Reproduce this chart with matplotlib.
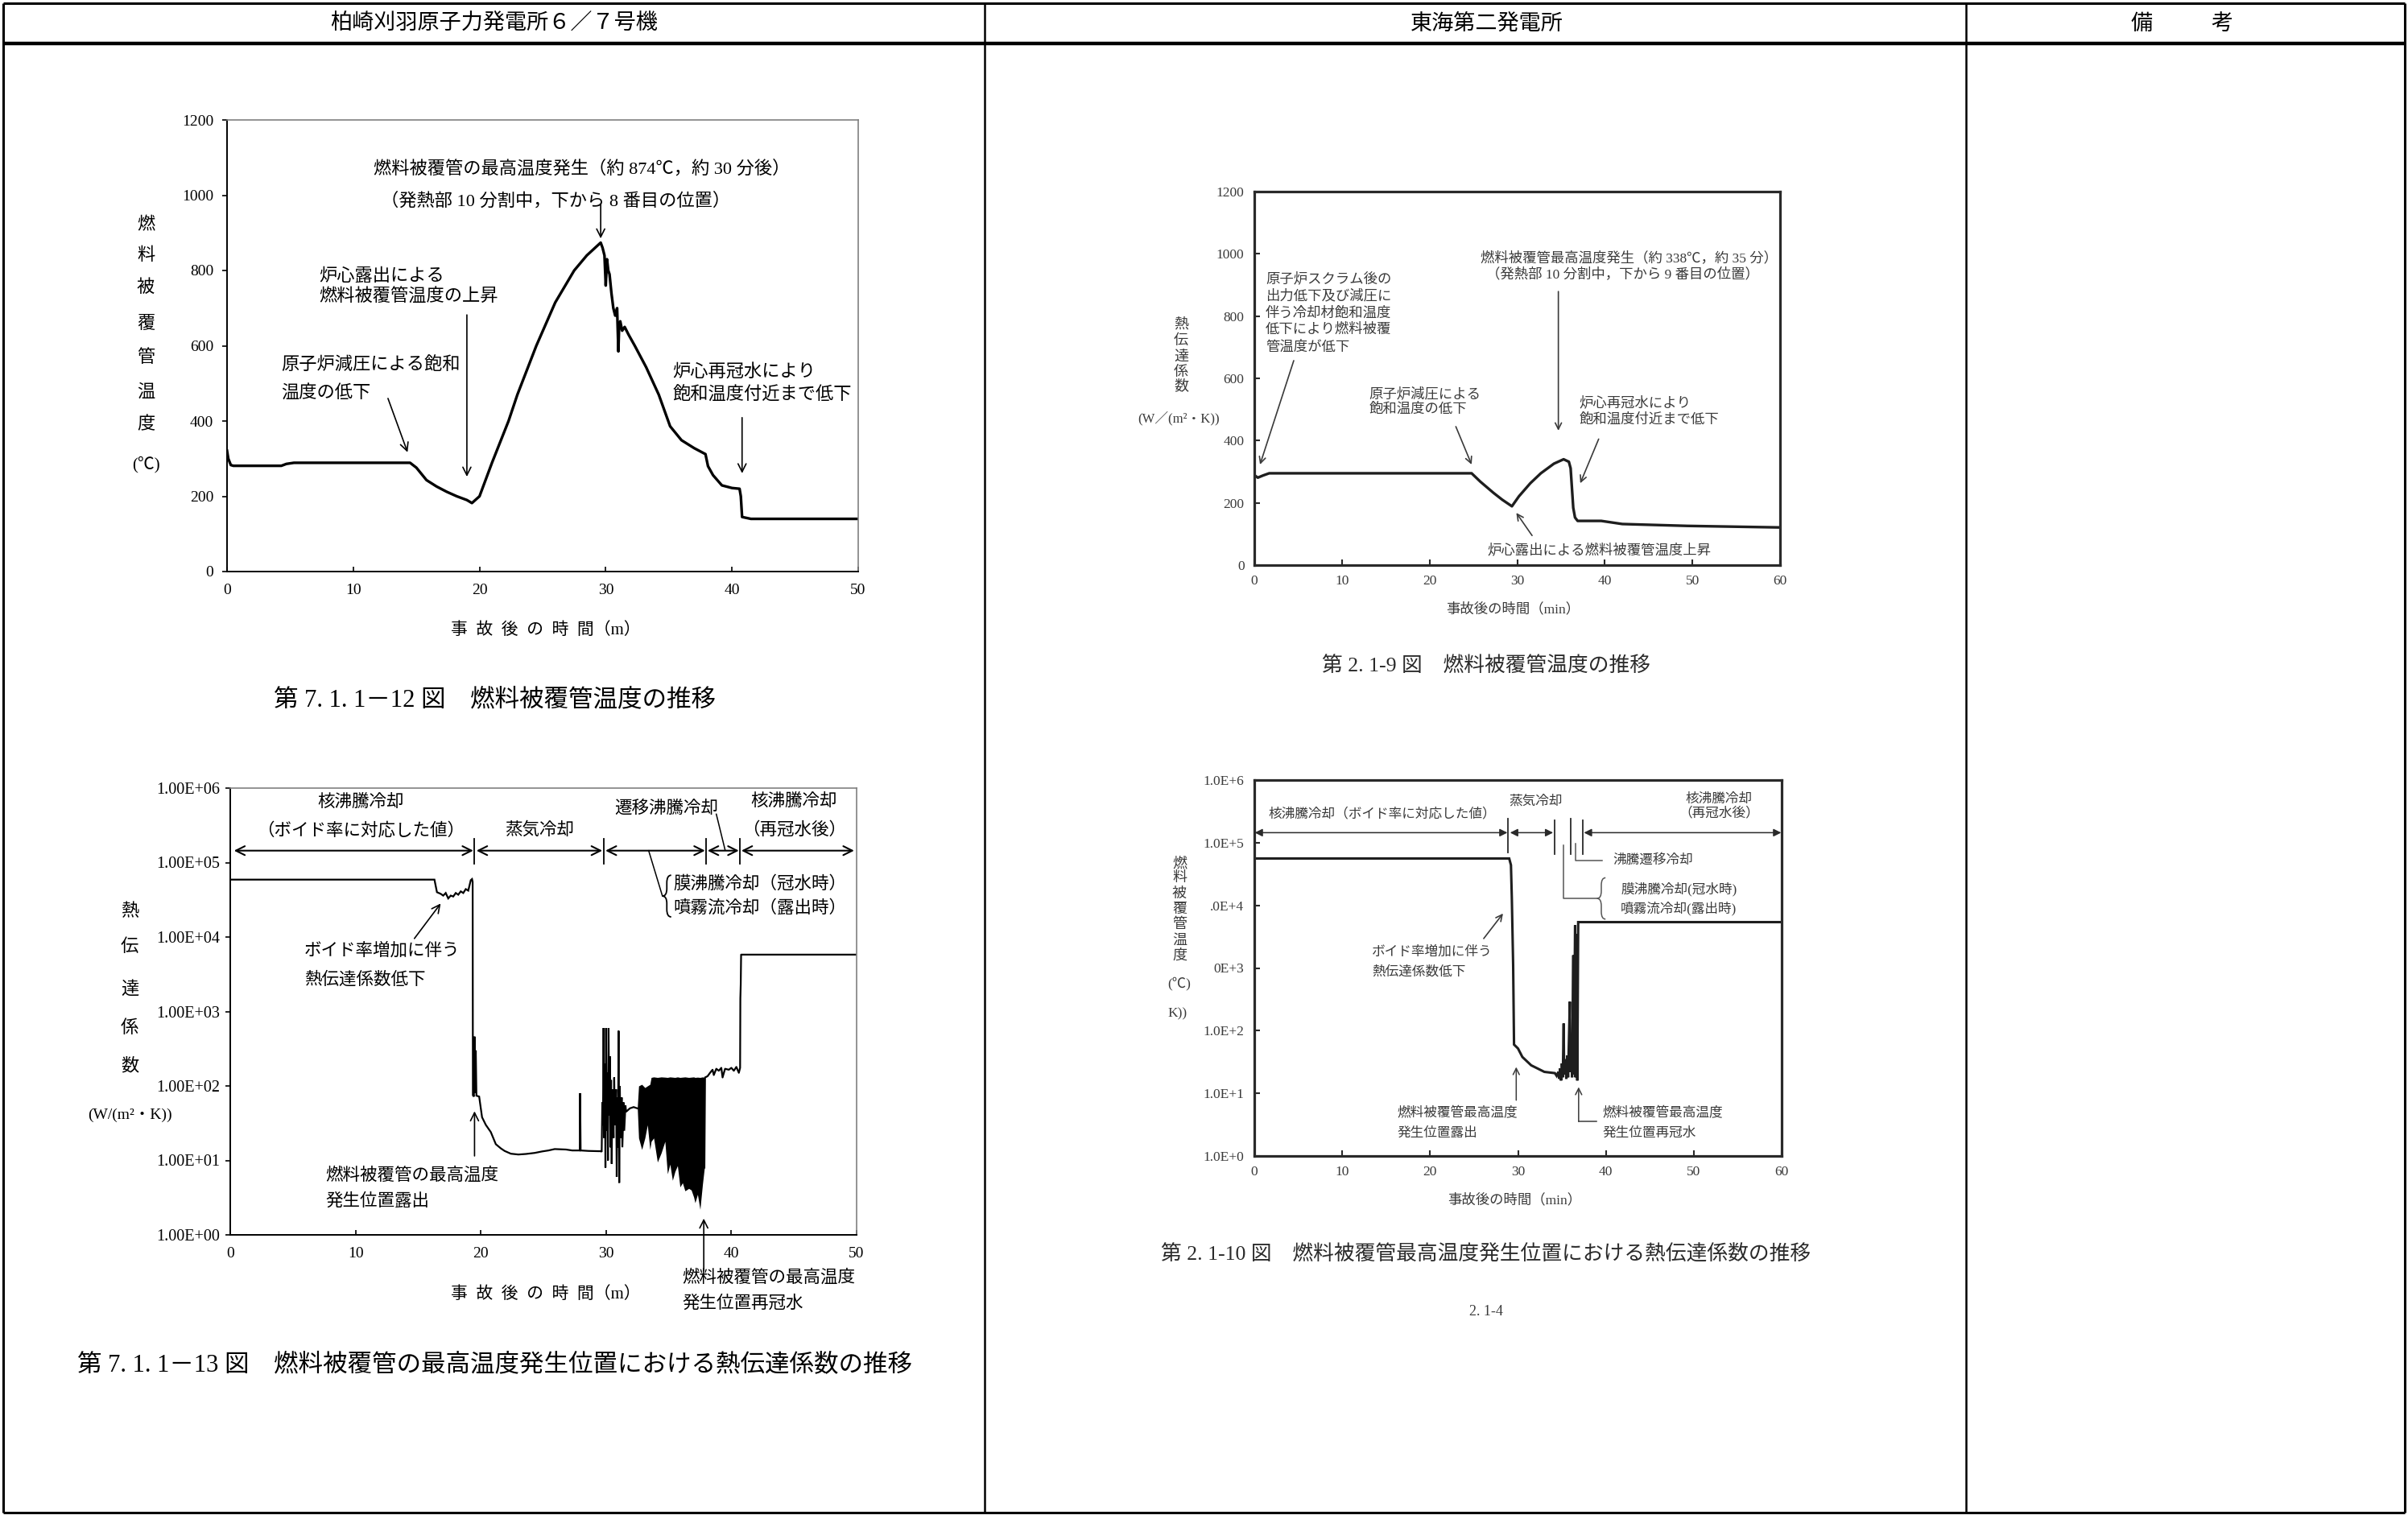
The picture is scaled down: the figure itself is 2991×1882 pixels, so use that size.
import matplotlib
matplotlib.use("Agg")
import matplotlib.pyplot as plt
from matplotlib.lines import Line2D
from matplotlib.path import Path
from matplotlib.patches import PathPatch
import math

W, H = 2991, 1882
SERIF_JP = ['Liberation Serif', 'Noto Sans CJK JP', 'DejaVu Sans']
SANS_JP = ['Noto Sans CJK JP', 'DejaVu Sans']
plt.rcParams['font.family'] = SERIF_JP
plt.rcParams['axes.unicode_minus'] = False

# ---------------- data ----------------
# 第7.1.1-12図 燃料被覆管温度 (KK 6/7)
kk_temp_t = [0, 0.1, 0.3, 0.5, 4.3, 4.7, 5.3, 14.5, 15.0, 15.8,
             16.6, 17.4, 18.2, 19.0, 19.4, 20.0, 21.0, 22.3, 23.0, 24.5,
             26.0, 27.5, 28.5, 29.6, 29.75, 29.9, 30.0, 30.1, 30.2, 30.3,
             30.45, 30.6, 30.75, 30.9, 31.0, 31.05, 31.15, 31.3, 31.5, 31.8,
             32.3, 33.2, 34.2, 35.1, 36.0, 37.0, 37.9, 38.1, 38.5, 39.2,
             40.0, 40.6, 40.7, 40.8, 41.5, 50]
kk_temp_T = [321, 300, 283, 281, 281, 286, 289, 289, 276, 243,
             226, 212, 200, 190, 182, 200, 290, 400, 470, 600,
             715, 800, 840, 874, 860, 840, 760, 830, 800, 790,
             740, 700, 680, 700, 585, 640, 665, 640, 650, 630,
             600, 543, 470, 386, 349, 328, 312, 280, 256, 229,
             222, 220, 200, 145, 140, 140]

# 第7.1.1-13図 熱伝達係数 (KK 6/7)
kk_htc_t = [0, 16.3, 16.5, 16.8, 17.0, 17.2, 17.4, 17.6, 17.8, 18.0,
            18.2, 18.4, 18.6, 18.8, 19.0, 19.2, 19.3, 19.35, 19.37, 19.45,
            19.5, 19.55, 19.6, 19.65, 19.87, 20.1, 20.4, 20.8, 21.2, 21.6,
            21.9, 22.4, 23.0, 23.6, 24.3, 24.9, 25.4, 25.9, 26.8, 27.3,
            27.9, 27.93, 27.97, 28.6, 29.4, 29.6, 29.65, 29.7, 29.75, 29.8,
            29.85, 29.9, 29.95, 30.0, 30.05, 30.1, 30.15, 30.2, 30.25, 30.3,
            30.35, 30.4, 30.45, 30.5, 30.6, 30.65, 30.7, 30.8, 30.85, 30.9,
            30.95, 31.0, 31.05, 31.1, 31.15, 31.25, 31.3, 31.4, 31.45, 31.55,
            31.6, 31.9, 32.2, 32.5]
kk_htc_h = [5.9e4, 5.9e4, 4.0e4, 3.8e4, 3.6e4, 3.9e4, 3.3e4, 3.6e4, 3.5e4, 3.9e4,
            3.7e4, 4.1e4, 3.9e4, 4.4e4, 4.2e4, 5.8e4, 6.0e4, 5.5e4, 75, 72,
            460, 80, 300, 74, 72, 38, 30, 24, 16.5, 14.5,
            13.4, 12.3, 12.0, 12.2, 12.6, 13.2, 13.6, 14.2, 14.0, 13.6,
            13.6, 80, 13.6, 13.4, 13.3, 13.3, 13, 60, 30, 600,
            20, 200, 8, 600, 25, 150, 10, 600, 40, 250,
            15, 120, 9, 90, 20, 130, 30, 90, 6, 70,
            15, 550, 5, 100, 20, 70, 15, 60, 25, 55,
            45, 50, 52, 50]
# dense oscillation band (envelopes)
kk_band_t = [32.5, 32.6, 32.85, 33.1, 33.3, 33.5, 33.6, 33.8, 34.1, 34.4,
             34.7, 34.9, 35.1, 35.3, 35.5, 35.7, 35.9, 36.1, 36.3, 36.6,
             36.8, 37.0, 37.1, 37.3, 37.5, 37.7, 37.85]
kk_band_hi = [52, 100, 105, 95, 100, 105, 130, 132, 130, 132,
              131, 130, 132, 131, 130, 132, 130, 131, 132, 130,
              131, 132, 130, 131, 130, 132, 130]
kk_band_lo = [50, 20, 14, 20, 30, 14, 18, 20, 9.5, 12.6,
              18, 6.6, 8.9, 5.4, 7.1, 8.5, 4.4, 5.0, 3.9, 4.2,
              4.0, 3.2, 2.7, 3.5, 2.2, 4.8, 8]
kk_after_t = [37.85, 37.9, 38.1, 38.3, 38.5, 38.6, 38.8, 39.0, 39.2, 39.3,
              39.5, 39.8, 40.0, 40.2, 40.4, 40.6, 40.7, 40.72, 40.75, 40.78, 50]
kk_after_h = [8, 130, 135, 150, 165, 140, 170, 160, 175, 130,
              170, 165, 175, 160, 180, 150, 175, 1500, 2300, 5800, 5800]

# 第2.1-9図 燃料被覆管温度 (東海第二)
tk_temp_t = [0, 0.4, 1.0, 1.7, 24.8, 25.8, 27.3, 28.3, 29.4, 30.2,
             31.5, 32.7, 34.2, 35.3, 35.9, 36.1, 36.4, 36.6, 36.9, 39.6,
             42.0, 49.4, 60]
tk_temp_T = [289, 281, 288, 295, 295, 268, 232, 210, 189, 221,
             263, 295, 326, 340, 332, 311, 184, 153, 142, 142,
             132, 126, 121]

# 第2.1-10図 熱伝達係数 (東海第二)
tk_htc_t = [0, 29.0, 29.2, 29.3, 29.45, 29.55, 30.0, 30.5, 31.5, 33.0,
            34.2, 34.4, 34.6, 34.7, 34.8, 34.9, 35.0, 35.1, 35.2, 35.25,
            35.4, 35.5, 35.6, 35.7, 35.9, 35.95, 36.1, 36.15, 36.3, 36.35,
            36.5, 36.55, 36.7, 36.75, 36.85, 60]
tk_htc_h = [5.6e4, 5.6e4, 4.4e4, 1.3e4, 1100, 60, 52, 38, 28, 22,
            21, 19, 22, 17, 25, 16, 30, 18, 130, 20,
            35, 17, 40, 18, 290, 22, 60, 18, 1600, 20,
            4800, 18, 3500, 16, 5400, 5400]

kk_xticks = [0, 10, 20, 30, 40, 50]
kk_temp_yticks = [0, 200, 400, 600, 800, 1000, 1200]
kk_htc_yticks = [1, 10, 100, 1e3, 1e4, 1e5, 1e6]
kk_htc_ylabels = ['1.00E+00', '1.00E+01', '1.00E+02', '1.00E+03', '1.00E+04', '1.00E+05', '1.00E+06']
tk_xticks = [0, 10, 20, 30, 40, 50, 60]
tk_temp_yticks = [0, 200, 400, 600, 800, 1000, 1200]
tk_htc_yticks = [1, 10, 100, 1e3, 1e4, 1e5, 1e6]
tk_htc_ylabels = ['1.0E+0', '1.0E+1', '1.0E+2', '0E+3', '.0E+4', '1.0E+5', '1.0E+6']

# ---------------- figure helpers ----------------
fig = plt.figure(figsize=(W / 100, H / 100), dpi=100)
fig.patch.set_facecolor('white')


def add_ax(l, t, r, b):
    return fig.add_axes([l / W, 1 - b / H, (r - l) / W, (b - t) / H])


def fline(x1, y1, x2, y2, lw=2.0, color='k'):
    fig.add_artist(Line2D([x1 / W, x2 / W], [1 - y1 / H, 1 - y2 / H],
                          transform=fig.transFigure, color=color, lw=lw,
                          solid_capstyle='butt'))


def ftext(x, y, s, size, ha='center', va='center', family=None, color='k', **kw):
    fig.text(x / W, 1 - y / H, s, fontsize=size, ha=ha, va=va,
             family=family or SERIF_JP, color=color, **kw)


def vtext(x, ys, chars, size, color='k'):
    for yy, ch in zip(ys, chars):
        ftext(x, yy, ch, size, color=color)


def arrow(ax, tail, head, style='->', lw=1.2, color='k', ms=18):
    ax.annotate('', xy=head, xytext=tail, annotation_clip=False,
                arrowprops=dict(arrowstyle=style, lw=lw, color=color,
                                mutation_scale=ms, shrinkA=0, shrinkB=0))


def brace(ax, x, y0, y1, w, color='k', lw=1.2):
    """Left-pointing curly brace in axes-fraction coordinates."""
    ym = 0.5 * (y0 + y1)
    q = 0.18 * (y1 - y0)
    xm = x + w / 2
    verts = [(x + w, y1), (xm, y1), (xm, y1 - q),
             (xm, ym + q), (xm, ym), (x, ym),
             (xm, ym), (xm, ym - q),
             (xm, y0 + q), (xm, y0), (x + w, y0)]
    codes = [Path.MOVETO, Path.CURVE3, Path.CURVE3,
             Path.LINETO, Path.CURVE3, Path.CURVE3,
             Path.CURVE3, Path.CURVE3,
             Path.LINETO, Path.CURVE3, Path.CURVE3]
    ax.add_patch(PathPatch(Path(verts, codes), transform=ax.transAxes,
                           fill=False, edgecolor=color, lw=lw, clip_on=False))


def style_left(ax):
    for s in ['left', 'bottom']:
        ax.spines[s].set_color('k')
        ax.spines[s].set_linewidth(1.4)
    for s in ['top', 'right']:
        ax.spines[s].set_color('#808080')
        ax.spines[s].set_linewidth(1.2)


def style_right(ax):
    for s in ax.spines.values():
        s.set_color('#2a2a2a')
        s.set_linewidth(2.3)


# ---------------- table frame ----------------
fline(4, 4, 2987, 4, lw=2.2)
fline(4, 54, 2987, 54, lw=3.2)
fline(4, 1879, 2987, 1879, lw=2.2)
fline(4, 4, 4, 1879, lw=2.2)
fline(2987, 4, 2987, 1879, lw=2.2)
fline(1223, 4, 1223, 1879, lw=1.8)
fline(2442, 4, 2442, 1879, lw=1.8)
ftext(614, 29, '柏崎刈羽原子力発電所６／７号機', 19.5, family=SANS_JP)
ftext(1847, 29, '東海第二発電所', 19.5, family=SANS_JP)
ftext(2660, 29, '備', 19.5, family=SANS_JP)
ftext(2760, 29, '考', 19.5, family=SANS_JP)

# ---------------- Chart 1 ----------------
ax1 = add_ax(282, 149, 1066, 710)
ax1.plot(kk_temp_t, kk_temp_T, color='k', lw=2.4, solid_joinstyle='round')
ax1.set_xlim(0, 50)
ax1.set_ylim(0, 1200)
ax1.set_xticks(kk_xticks)
ax1.set_yticks(kk_temp_yticks)
ax1.tick_params(axis='x', direction='in', length=4, width=1.2, pad=11, labelsize=14)
ax1.tick_params(axis='y', direction='out', length=4, width=1.2, pad=8, labelsize=14)
style_left(ax1)
fs = 16
ax1.text(11.6, 1069, '燃料被覆管の最高温度発生（約 874℃，約 30 分後）', fontsize=fs, ha='left', va='center')
ax1.text(12.2, 984, '（発熱部 10 分割中，下から 8 番目の位置）', fontsize=fs, ha='left', va='center')
arrow(ax1, (29.6, 975), (29.6, 885))
ax1.text(7.3, 784, '炉心露出による', fontsize=fs, ha='left', va='center')
ax1.text(7.3, 729, '燃料被覆管温度の上昇', fontsize=fs, ha='left', va='center')
arrow(ax1, (19.0, 682), (19.0, 252))
ax1.text(4.3, 548, '原子炉減圧による飽和', fontsize=fs, ha='left', va='center')
ax1.text(4.3, 474, '温度の低下', fontsize=fs, ha='left', va='center')
arrow(ax1, (12.75, 460), (14.3, 317))
ax1.text(35.3, 530, '炉心再冠水により', fontsize=fs, ha='left', va='center')
ax1.text(35.3, 469, '飽和温度付近まで低下', fontsize=fs, ha='left', va='center')
arrow(ax1, (40.8, 409), (40.8, 261))
vtext(181, [280, 318, 358, 403, 445, 488, 528], '燃料被覆管温度', 16)
ftext(181, 577, '(℃)', 15)
ftext(678, 783, '事  故  後  の  時  間（m）', 15)
ftext(614, 870, '第 7. 1. 1－12 図　燃料被覆管温度の推移', 22)

# ---------------- Chart 2 ----------------
ax2 = add_ax(286, 979, 1064, 1534)
ax2.set_yscale('log')
ax2.plot(kk_htc_t, kk_htc_h, color='k', lw=1.6, solid_joinstyle='miter')
ax2.fill_between(kk_band_t, kk_band_lo, kk_band_hi, color='k', lw=0)
ax2.plot(kk_after_t, kk_after_h, color='k', lw=1.6)
ax2.set_xlim(0, 50)
ax2.set_ylim(1, 1e6)
ax2.set_xticks(kk_xticks)
ax2.set_yticks(kk_htc_yticks)
ax2.set_yticklabels(kk_htc_ylabels)
ax2.minorticks_off()
ax2.tick_params(axis='x', direction='in', length=4, width=1.2, pad=11, labelsize=14)
ax2.tick_params(axis='y', direction='out', length=4, width=1.2, pad=5, labelsize=14.5)
style_left(ax2)
fs2 = 15.5
L = lambda v: 10 ** v
ax2.text(10.4, L(5.81), '核沸騰冷却', fontsize=fs2, ha='center', va='center')
ax2.text(10.4, L(5.43), '（ボイド率に対応した値）', fontsize=fs2, ha='center', va='center')
ax2.text(24.7, L(5.43), '蒸気冷却', fontsize=fs2, ha='center', va='center')
ax2.text(34.8, L(5.72), '遷移沸騰冷却', fontsize=fs2, ha='center', va='center')
ax2.text(45.0, L(5.82), '核沸騰冷却', fontsize=fs2, ha='center', va='center')
ax2.text(45.0, L(5.43), '（再冠水後）', fontsize=fs2, ha='center', va='center')
for a, b in [(0.3, 19.4), (19.65, 29.7), (29.95, 37.9), (38.1, 40.6), (40.8, 49.8)]:
    arrow(ax2, (a, L(5.16)), (b, L(5.16)), style='<->', lw=1.5, ms=20)
for xb in [19.5, 29.85, 38.0, 40.7]:
    ax2.plot([xb, xb], [L(5.32), L(4.98)], color='k', lw=1.3)
ax2.plot([38.8, 39.5], [L(5.65), L(5.17)], color='k', lw=1.1)
ax2.plot([33.4, 34.5], [L(5.16), L(4.55)], color='k', lw=1.1)
brace(ax2, 34.5 / 50, 4.27 / 6, 4.83 / 6, 0.014, color='k', lw=1.3)
ax2.text(35.4, L(4.71), '膜沸騰冷却（冠水時）', fontsize=fs2, ha='left', va='center')
ax2.text(35.4, L(4.39), '噴霧流冷却（露出時）', fontsize=fs2, ha='left', va='center')
ax2.text(5.9, L(3.81), 'ボイド率増加に伴う', fontsize=fs2, ha='left', va='center')
ax2.text(5.9, L(3.42), '熱伝達係数低下', fontsize=fs2, ha='left', va='center')
arrow(ax2, (14.7, L(3.98)), (16.8, L(4.45)))
ax2.text(7.6, L(0.795), '燃料被覆管の最高温度', fontsize=fs2, ha='left', va='center')
ax2.text(7.6, L(0.45), '発生位置露出', fontsize=fs2, ha='left', va='center')
arrow(ax2, (19.5, L(1.06)), (19.5, L(1.66)))
ax2.text(36.05, L(-0.58), '燃料被覆管の最高温度', fontsize=fs2, ha='left', va='center')
ax2.text(36.05, L(-0.92), '発生位置再冠水', fontsize=fs2, ha='left', va='center')
arrow(ax2, (37.8, L(-0.48)), (37.8, L(0.22)))
vtext(161, [1133, 1177, 1229, 1278, 1325], '熱伝達係数', 16)
ftext(161, 1385, '(W/(m²・K))', 14)
ftext(678, 1608, '事  故  後  の  時  間（m）', 15)
ftext(614, 1696, '第 7. 1. 1－13 図　燃料被覆管の最高温度発生位置における熱伝達係数の推移', 22)

# ---------------- Chart 3 ----------------
GR = '#3a3a3a'
ax3 = add_ax(1558, 238, 2211, 702)
ax3.plot(tk_temp_t, tk_temp_T, color='#1e1e1e', lw=2.4, solid_joinstyle='round')
ax3.set_xlim(0, 60)
ax3.set_ylim(0, 1200)
ax3.set_xticks(tk_xticks)
ax3.set_yticks(tk_temp_yticks)
ax3.tick_params(axis='both', direction='in', length=5, width=1.5, pad=9,
                labelsize=12.5, labelcolor=GR, color='#2a2a2a')
style_right(ax3)
fs3 = 12.5
for yy, s in zip([918, 864, 807, 755, 698],
                 ['原子炉スクラム後の', '出力低下及び減圧に', '伴う冷却材飽和温度', '低下により燃料被覆', '管温度が低下']):
    ax3.text(1.3, yy, s, fontsize=fs3, ha='left', va='center', color=GR)
arrow(ax3, (4.5, 657), (0.65, 323), lw=1.2, color=GR, ms=14)
ax3.text(13.1, 548, '原子炉減圧による', fontsize=fs3, ha='left', va='center', color=GR)
ax3.text(13.1, 499, '飽和温度の低下', fontsize=fs3, ha='left', va='center', color=GR)
arrow(ax3, (23.0, 445), (24.8, 323), lw=1.2, color=GR, ms=14)
ax3.text(25.8, 986, '燃料被覆管最高温度発生（約 338℃，約 35 分）', fontsize=fs3, ha='left', va='center', color=GR)
ax3.text(26.5, 934, '（発熱部 10 分割中，下から 9 番目の位置）', fontsize=fs3, ha='left', va='center', color=GR)
arrow(ax3, (34.7, 879), (34.7, 432), lw=1.2, color=GR, ms=14)
ax3.text(37.1, 521, '炉心再冠水により', fontsize=fs3, ha='left', va='center', color=GR)
ax3.text(37.1, 466, '飽和温度付近まで低下', fontsize=fs3, ha='left', va='center', color=GR)
arrow(ax3, (39.3, 405), (37.2, 263), lw=1.2, color=GR, ms=14)
ax3.text(26.6, 47, '炉心露出による燃料被覆管温度上昇', fontsize=fs3, ha='left', va='center', color=GR)
arrow(ax3, (31.7, 95), (29.9, 168), lw=1.2, color=GR, ms=14)
vtext(1467, [403, 423, 443, 462, 480], '熱伝達係数', 13, color=GR)
ftext(1464, 520, '(W／(m²・K))', 12, color=GR)
ftext(1879, 757, '事故後の時間（min）', 12.5, color=GR)
ftext(1846, 828, '第 2. 1-9 図　燃料被覆管温度の推移', 18.5, color='#2a2a2a')

# ---------------- Chart 4 ----------------
ax4 = add_ax(1558, 969, 2213, 1436)
ax4.set_yscale('log')
ax4.plot(tk_htc_t, tk_htc_h, color='#1e1e1e', lw=2.2, solid_joinstyle='miter')
ax4.set_xlim(0, 60)
ax4.set_ylim(1, 1e6)
ax4.set_xticks(tk_xticks)
ax4.set_yticks(tk_htc_yticks)
ax4.set_yticklabels(tk_htc_ylabels)
ax4.minorticks_off()
ax4.tick_params(axis='both', direction='in', length=5, width=1.5, pad=9,
                labelsize=12.5, labelcolor=GR, color='#2a2a2a')
style_right(ax4)
fs4 = 12
ax4.text(1.6, L(5.45), '核沸騰冷却（ボイド率に対応した値）', fontsize=fs4, ha='left', va='center', color=GR)
ax4.text(32.0, L(5.66), '蒸気冷却', fontsize=fs4, ha='center', va='center', color=GR)
ax4.text(52.9, L(5.69), '核沸騰冷却', fontsize=fs4, ha='center', va='center', color=GR)
ax4.text(52.9, L(5.47), '（再冠水後）', fontsize=fs4, ha='center', va='center', color=GR)
for a, b in [(0.05, 28.8), (29.1, 34.0), (37.5, 59.95)]:
    arrow(ax4, (a, L(5.16)), (b, L(5.16)), style='<|-|>', lw=1.1, color='#2a2a2a', ms=14)
for xb, y1, y2 in [(28.9, 5.38, 4.85), (34.2, 5.36, 4.82), (36.0, 5.38, 4.82), (37.4, 5.36, 4.82)]:
    ax4.plot([xb, xb], [L(y1), L(y2)], color='#2a2a2a', lw=1.3)
ax4.plot([36.55, 36.55, 39.6], [L(4.99), L(4.72), L(4.72)], color='#555', lw=1.1)
ax4.text(40.8, L(4.72), '沸騰遷移冷却', fontsize=fs4, ha='left', va='center', color=GR)
ax4.plot([35.2, 35.2, 39.0], [L(4.96), L(4.11), L(4.11)], color='#555', lw=1.1)
brace(ax4, 39.0 / 60, 3.78 / 6, 4.44 / 6, 0.016, color='#555', lw=1.1)
ax4.text(41.7, L(4.26), '膜沸騰冷却(冠水時)', fontsize=fs4, ha='left', va='center', color=GR)
ax4.text(41.7, L(3.95), '噴霧流冷却(露出時)', fontsize=fs4, ha='left', va='center', color=GR)
ax4.text(13.4, L(3.26), 'ボイド率増加に伴う', fontsize=fs4, ha='left', va='center', color=GR)
ax4.text(13.4, L(2.94), '熱伝達係数低下', fontsize=fs4, ha='left', va='center', color=GR)
arrow(ax4, (26.1, L(3.47)), (28.3, L(3.87)), lw=1.2, color=GR, ms=14)
ax4.text(16.3, L(0.68), '燃料被覆管最高温度', fontsize=fs4, ha='left', va='center', color=GR)
ax4.text(16.3, L(0.36), '発生位置露出', fontsize=fs4, ha='left', va='center', color=GR)
arrow(ax4, (29.8, L(0.89)), (29.8, L(1.42)), lw=1.1, color=GR, ms=14)
ax4.text(39.6, L(0.68), '燃料被覆管最高温度', fontsize=fs4, ha='left', va='center', color=GR)
ax4.text(39.6, L(0.36), '発生位置再冠水', fontsize=fs4, ha='left', va='center', color=GR)
ax4.plot([38.9, 36.9], [L(0.55), L(0.55)], color=GR, lw=1.1)
arrow(ax4, (36.9, L(0.55)), (36.9, L(1.1)), lw=1.1, color=GR, ms=14)
vtext(1465, [1073, 1091, 1110, 1129, 1149, 1168, 1187], '燃料被覆管温度', 13, color=GR)
ftext(1465, 1222, '(℃)', 12.5, color=GR)
ftext(1463, 1259, 'K))', 12.5, color=GR)
ftext(1881, 1491, '事故後の時間（min）', 12.5, color=GR)
ftext(1846, 1559, '第 2. 1-10 図　燃料被覆管最高温度発生位置における熱伝達係数の推移', 18.5, color='#2a2a2a')
ftext(1846, 1629, '2. 1-4', 13, color=GR)

fig.savefig('out.png', dpi=100)
